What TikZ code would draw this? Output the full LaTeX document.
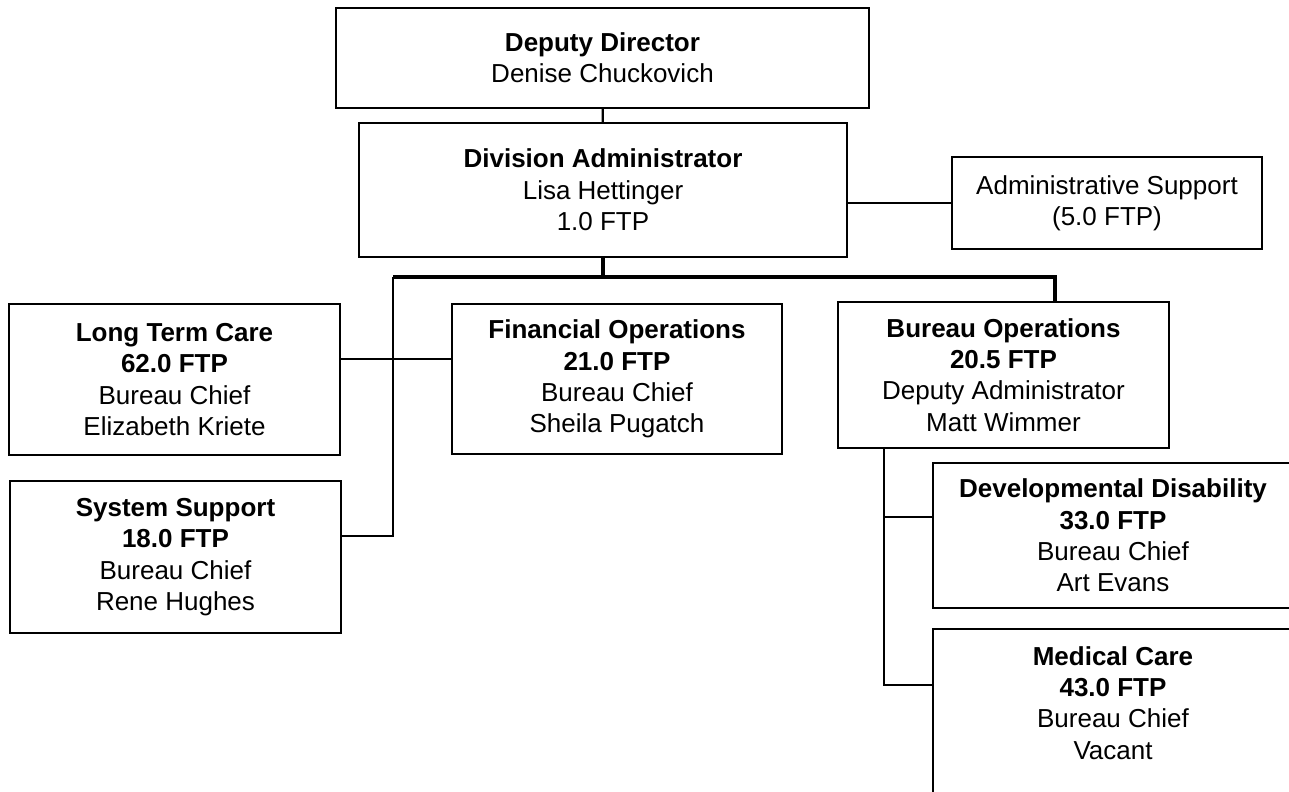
\documentclass[tikz,border=0pt]{standalone}
\usepackage{fontspec}
\setmainfont{Liberation Sans}

\begin{document}
\begin{tikzpicture}[x=0.75pt,y=-0.75pt,
  bx/.style={draw,line width=1.6pt,align=center,inner sep=2pt,
    font=\fontsize{19.5}{23.5}\selectfont},
  wh/.style 2 args={minimum width=#1*0.75pt,minimum height=#2*0.75pt},
  ln/.style={line width=1.8pt},
  bus/.style={line width=2.4pt}
]
\useasboundingbox (0,0) rectangle (1289,792);
\clip (0,0) rectangle (1289,792);
% ---- top: director and administrator ----
\node[bx,wh={533}{100}] (dep) at (602.5,58) {\textbf{Deputy Director}\\Denise Chuckovich};
\node[bx,wh={488}{134}] (div) at (603,190) {\textbf{Division Administrator}\\Lisa Hettinger\\1.0 FTP};
\node[bx,wh={310}{92}]  (adm) at (1107,203) {Administrative Support\\(5.0 FTP)};
\draw[ln] (dep) -- (div);
\draw[ln] (adm.west) -- (adm.west -| div.east);
% ---- middle row: bureaus ----
\node[bx,wh={331}{151}] (ltc) at (174.5,379.5) {\textbf{Long Term Care}\\\textbf{62.0 FTP}\\Bureau Chief\\Elizabeth Kriete};
\node[bx,wh={331}{152}] (sys) at (175.5,557) {\textbf{System Support}\\\textbf{18.0 FTP}\\Bureau Chief\\Rene Hughes};
\node[bx,wh={330}{150}] (fin) at (617,379) {\textbf{Financial Operations}\\\textbf{21.0 FTP}\\Bureau Chief\\Sheila Pugatch};
\node[bx,wh={331}{146}] (bur) at (1003.5,375) {\textbf{Bureau Operations}\\\textbf{20.5 FTP}\\Deputy Administrator\\Matt Wimmer};
% bus under the administrator
\coordinate (busL) at (393,277);
\coordinate (busR) at (1055,277);
\draw[bus] (div.south) -- (div.south |- busL);
\draw[bus] (busL) -- (busR) -- (busR |- bur.north);
\draw[ln] (busL) |- ([yshift=15.75pt]sys.east);
\draw[ln] ([yshift=15.4pt]ltc.east) -- ([yshift=15.4pt]ltc.east -| fin.west);
% ---- right column: under bureau operations ----
\node[bx,wh={360}{145}] (dev) at (1113,535.5) {\textbf{Developmental Disability}\\\textbf{33.0 FTP}\\Bureau Chief\\Art Evans};
\node[bx,wh={360}{10},inner ysep=13pt,anchor=north] (med) at (1113,628) {\textbf{Medical Care}\\\textbf{43.0 FTP}\\Bureau Chief\\Vacant\\[40pt]~};
\draw[ln] ([xshift=-89.6pt]bur.south) |- ([yshift=13.9pt]dev.west);
\draw[ln] ([xshift=-89.6pt]bur.south) |- ([yshift=-42.75pt]med.north west);
\end{tikzpicture}
\end{document}
